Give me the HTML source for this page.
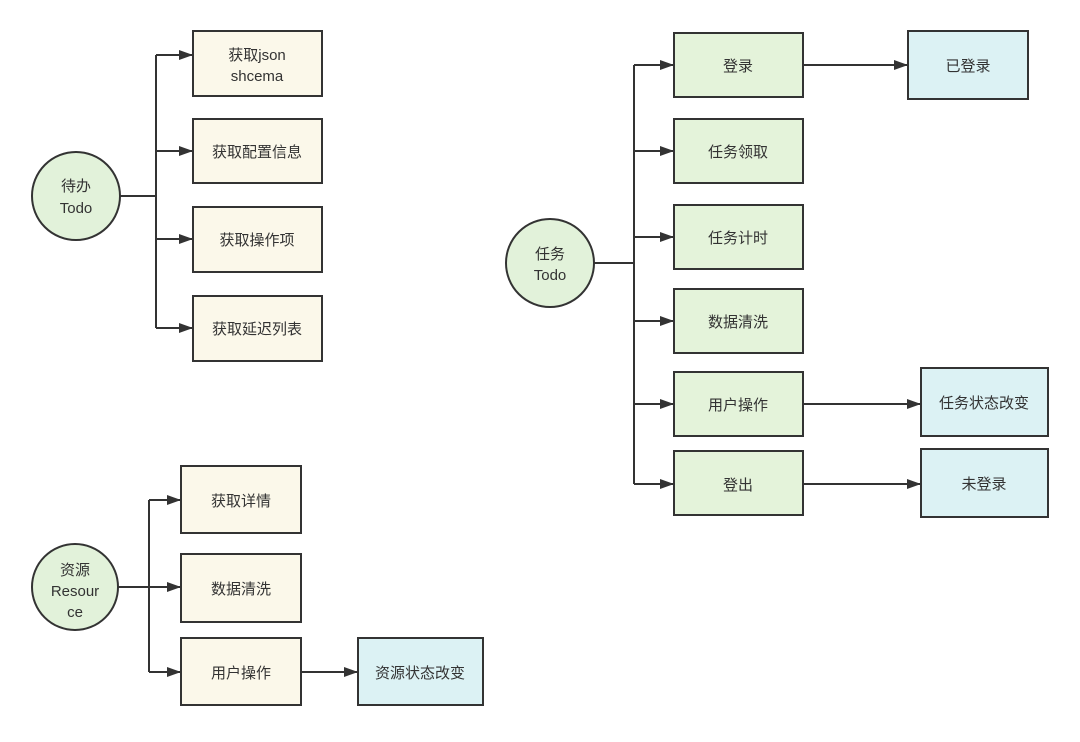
<!DOCTYPE html>
<html><head><meta charset="utf-8"><style>
html,body{margin:0;padding:0;background:#fff;}
svg text{font-family:"Liberation Sans","Noto Sans CJK SC",sans-serif;font-size:15px;fill:#333;text-anchor:middle;}
</style></head><body>
<svg width="1080" height="737" viewBox="0 0 1080 737" xmlns="http://www.w3.org/2000/svg">
<defs><marker id="a" markerWidth="14" markerHeight="10" refX="14" refY="5" orient="auto" markerUnits="userSpaceOnUse"><path d="M0,0 L14,5 L0,10 Z" fill="#333"/></marker></defs>
<g stroke="#333" stroke-width="2" fill="none">
<!-- group 1 -->
<path d="M120,196 H156"/>
<path d="M156,55 V328"/>
<path d="M156,55 H193" marker-end="url(#a)"/>
<path d="M156,151 H193" marker-end="url(#a)"/>
<path d="M156,239 H193" marker-end="url(#a)"/>
<path d="M156,328 H193" marker-end="url(#a)"/>
<!-- group 2 -->
<path d="M594,263 H634"/>
<path d="M634,65 V484"/>
<path d="M634,65 H674" marker-end="url(#a)"/>
<path d="M634,151 H674" marker-end="url(#a)"/>
<path d="M634,237 H674" marker-end="url(#a)"/>
<path d="M634,321 H674" marker-end="url(#a)"/>
<path d="M634,404 H674" marker-end="url(#a)"/>
<path d="M634,484 H674" marker-end="url(#a)"/>
<path d="M803,65 H908" marker-end="url(#a)"/>
<path d="M803,404 H921" marker-end="url(#a)"/>
<path d="M803,484 H921" marker-end="url(#a)"/>
<!-- group 3 -->
<path d="M118,587 H149"/>
<path d="M149,500 V672"/>
<path d="M149,500 H181" marker-end="url(#a)"/>
<path d="M149,587 H181" marker-end="url(#a)"/>
<path d="M149,672 H181" marker-end="url(#a)"/>
<path d="M301,672 H358" marker-end="url(#a)"/>
</g>
<g stroke="#333" stroke-width="2">
<circle cx="76" cy="196" r="44" fill="#e2f2da"/>
<rect x="193" y="31" width="129" height="65" fill="#fbf8ea"/>
<rect x="193" y="119" width="129" height="64" fill="#fbf8ea"/>
<rect x="193" y="207" width="129" height="65" fill="#fbf8ea"/>
<rect x="193" y="296" width="129" height="65" fill="#fbf8ea"/>

<circle cx="550" cy="263" r="44" fill="#e2f2da"/>
<rect x="674" y="33" width="129" height="64" fill="#e4f3da"/>
<rect x="674" y="119" width="129" height="64" fill="#e4f3da"/>
<rect x="674" y="205" width="129" height="64" fill="#e4f3da"/>
<rect x="674" y="289" width="129" height="64" fill="#e4f3da"/>
<rect x="674" y="372" width="129" height="64" fill="#e4f3da"/>
<rect x="674" y="451" width="129" height="64" fill="#e4f3da"/>
<rect x="908" y="31" width="120" height="68" fill="#dcf2f4"/>
<rect x="921" y="368" width="127" height="68" fill="#dcf2f4"/>
<rect x="921" y="449" width="127" height="68" fill="#dcf2f4"/>

<circle cx="75" cy="587" r="43" fill="#e2f2da"/>
<rect x="181" y="466" width="120" height="67" fill="#fbf8ea"/>
<rect x="181" y="554" width="120" height="68" fill="#fbf8ea"/>
<rect x="181" y="638" width="120" height="67" fill="#fbf8ea"/>
<rect x="358" y="638" width="125" height="67" fill="#dcf2f4"/>
</g>
<text x="76" y="191">待办</text><text x="76" y="213">Todo</text>
<text x="257" y="60">获取json</text><text x="257" y="81">shcema</text>
<text x="257" y="157">获取配置信息</text>
<text x="257" y="245">获取操作项</text>
<text x="257" y="334">获取延迟列表</text>

<text x="550" y="259">任务</text><text x="550" y="280">Todo</text>
<text x="738" y="71">登录</text>
<text x="738" y="157">任务领取</text>
<text x="738" y="243">任务计时</text>
<text x="738" y="327">数据清洗</text>
<text x="738" y="410">用户操作</text>
<text x="738" y="490">登出</text>
<text x="968" y="71">已登录</text>
<text x="984" y="408">任务状态改变</text>
<text x="984" y="489">未登录</text>

<text x="75" y="575">资源</text><text x="75" y="596">Resour</text><text x="75" y="617">ce</text>
<text x="241" y="506">获取详情</text>
<text x="241" y="594">数据清洗</text>
<text x="241" y="678">用户操作</text>
<text x="420" y="678">资源状态改变</text>
</svg>
</body></html>
